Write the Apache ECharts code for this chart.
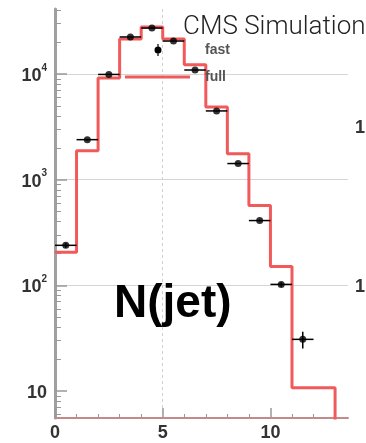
<!DOCTYPE html>
<html><head><meta charset="utf-8">
<script src="https://cdn.jsdelivr.net/npm/echarts@6/dist/echarts.min.js"></script>
<style>html,body{margin:0;padding:0;background:#fff}#c{width:366px;height:443px}</style>
</head><body><div id="c"></div>
<script>
// histogram ("full"): left bin edges and contents (last bin is off scale)
const binEdges = [0, 1, 2, 3, 4, 5, 6, 7, 8, 9, 10, 11, 12, 13];
const fullValues = [205, 1880, 9170, 21400, 27900, 21400, 12200, 4870, 1760, 568, 151, 10.7, 10.7, 1];
// points ("fast")
const fastCenters = [0.5, 1.5, 2.5, 3.5, 4.5, 5.5, 6.5, 7.5, 8.5, 9.5, 10.5, 11.5];
const fastValues = [239, 2390, 9900, 22400, 27200, 20500, 10900, 4470, 1420, 410, 102, 30.8];
const fastErrX = [0.5, 0.5, 0.5, 0.5, 0.5, 0.5, 0.5, 0.5, 0.5, 0.5, 0.5, 0.5];
const fastErrY = [12, 40, 80, 120, 140, 120, 80, 40, 15, 8, 5, 5.5];
// ticks
const xLabelTicks = [0, 5, 10];
const xMinorTicks = [1, 2, 3, 4, 6, 7, 8, 9, 11, 12, 13];
const yLabelTicks = [10, 100, 1000, 10000];
const yMinorTicks = [6, 7, 8, 9, 20, 30, 40, 50, 60, 70, 80, 90, 200, 300, 400, 500, 600, 700, 800, 900,
  2000, 3000, 4000, 5000, 6000, 7000, 8000, 9000, 20000, 30000, 40000];

const RED = '#f05a5a';
const FONT = 'Liberation Sans';
const chart = echarts.init(document.getElementById('c'));
chart.setOption({
  animation: false,
  backgroundColor: '#fff',
  title: [
    { text: 'CMS Simulation', left: 183, top: 14, padding: 0,
      textStyle: { fontSize: 26, fontWeight: 300, fontFamily: 'Roboto', color: '#222' } },
    { text: 'N(jet)', left: 114, top: 281, padding: 0,
      textStyle: { fontSize: 46, fontWeight: 'bold', fontFamily: FONT, color: '#000' } }
  ],
  legend: {
    orient: 'vertical', left: 125, top: 40, padding: 0,
    itemWidth: 75, itemHeight: 20, itemGap: 7, selectedMode: false,
    textStyle: { fontSize: 14, fontWeight: 'bold', color: '#555', fontFamily: FONT },
    data: [
      { name: 'fast', itemStyle: { color: '#000' },
        icon: 'path://M0 0L0 0M75 20L75 20M29.5 10A3.5 3.5 0 1 1 36.5 10A3.5 3.5 0 1 1 29.5 10ZM32.4 4L33.6 4L33.6 16L32.4 16Z' },
      { name: 'full', itemStyle: { color: RED },
        icon: 'path://M0 0L0 0M75 20L75 20M0 8.5L65 8.5L65 11.5L0 11.5Z' }
    ]
  },
  grid: { left: 55, right: 18, top: 9, bottom: 25, containLabel: false, outerBoundsMode: 'none' },
  xAxis: [
    { type: 'value', min: 0, max: 13.6, interval: 5, position: 'bottom',
      axisLine: { show: true, onZero: false, lineStyle: { color: '#c48a8a', width: 2 } },
      axisTick: { show: true, inside: true, length: 10, customValues: xLabelTicks, lineStyle: { color: '#999', width: 1.5 } },
      axisLabel: { show: true, customValues: xLabelTicks, margin: 6, fontSize: 18, fontWeight: 'bold', color: '#333', fontFamily: FONT },
      splitLine: { show: true, showMinLine: false, showMaxLine: false, lineStyle: { color: '#d0d0d0', type: [3, 3], width: 1 } }
    },
    { type: 'value', min: 0, max: 13.6, position: 'bottom',
      axisLine: { show: false, onZero: false },
      axisTick: { show: true, inside: true, length: 4, customValues: xMinorTicks, lineStyle: { color: '#999' } },
      axisLabel: { show: false }, splitLine: { show: false }
    }
  ],
  yAxis: [
    { type: 'log', logBase: 10, min: 5.55, max: 41200, position: 'left',
      axisLine: { show: true, onZero: false, lineStyle: { color: '#a0a0a0', width: 3 } },
      axisTick: { show: true, inside: true, length: 12, customValues: yLabelTicks, lineStyle: { color: '#999', width: 1.5 } },
      axisLabel: { show: true, customValues: yLabelTicks, margin: 8,
        formatter: function (v) {
          const e = Math.round(Math.log10(v));
          return e === 1 ? '{b|10}' : '{b|10}{s|' + e + '}';
        },
        rich: {
          b: { fontSize: 18, fontWeight: 'bold', color: '#333', fontFamily: FONT, lineHeight: 22, verticalAlign: 'bottom' },
          s: { fontSize: 10, fontWeight: 'bold', color: '#333', fontFamily: FONT, lineHeight: 10, verticalAlign: 'top' }
        }
      },
      splitLine: { show: true, showMinLine: false, lineStyle: { color: '#d5d5d5', width: 1 } }
    },
    { type: 'log', logBase: 10, min: 5.55, max: 41200, position: 'left',
      axisLine: { show: false, onZero: false },
      axisTick: { show: true, inside: true, length: 6, customValues: yMinorTicks, lineStyle: { color: '#999' } },
      axisLabel: { show: false }, splitLine: { show: false }
    }
  ],
  graphic: [
    { type: 'text', x: 355, y: 128, style: { text: '1', font: 'bold 18px "Liberation Sans"', fill: '#333', verticalAlign: 'middle' } },
    { type: 'text', x: 355, y: 287, style: { text: '1', font: 'bold 18px "Liberation Sans"', fill: '#333', verticalAlign: 'middle' } }
  ],
  series: [
    { name: 'full', type: 'line', step: 'end', xAxisIndex: 0, yAxisIndex: 0,
      data: binEdges.map((x, i) => [x, fullValues[i]]),
      symbol: 'none', lineStyle: { color: RED, width: 3 }, itemStyle: { color: RED }, z: 2 },
    { name: 'fast', type: 'custom', xAxisIndex: 0, yAxisIndex: 0,
      data: fastCenters.map((x, i) => [x, fastValues[i], fastErrX[i], fastErrY[i]]),
      encode: { x: 0, y: 1 }, itemStyle: { color: '#000' }, z: 3,
      renderItem: function (params, api) {
        const x = api.value(0), y = api.value(1), ex = api.value(2), ey = api.value(3);
        const l = api.coord([x - ex, y]), r = api.coord([x + ex, y]);
        const t = api.coord([x, y + ey]), b = api.coord([x, y - ey]);
        return { type: 'group', children: [
          { type: 'line', shape: { x1: l[0], y1: l[1], x2: r[0], y2: r[1] }, style: { stroke: '#000', lineWidth: 1.5 } },
          { type: 'line', shape: { x1: t[0], y1: t[1], x2: b[0], y2: b[1] }, style: { stroke: '#000', lineWidth: 1.5 } }
        ] };
      }
    },
    { name: 'fast', type: 'scatter', xAxisIndex: 0, yAxisIndex: 0,
      data: fastCenters.map((x, i) => [x, fastValues[i]]),
      symbol: 'circle', symbolSize: 7, itemStyle: { color: '#000' }, z: 4 }
  ]
});
</script></body></html>
